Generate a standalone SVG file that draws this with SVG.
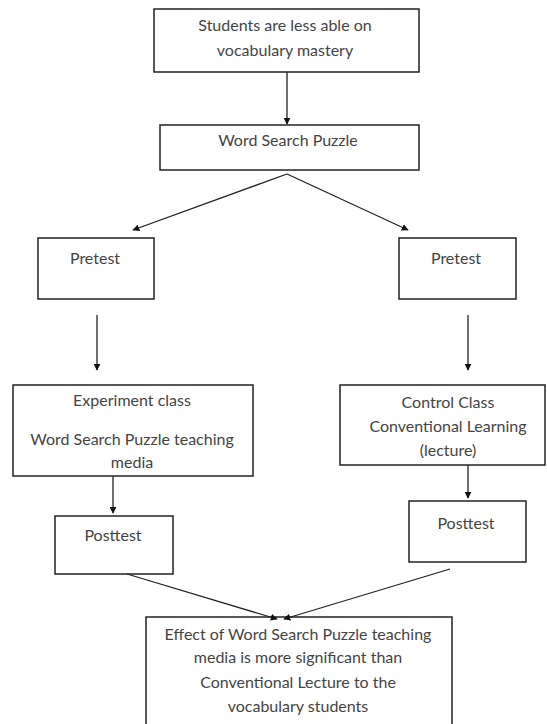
<svg xmlns="http://www.w3.org/2000/svg" width="547" height="724" viewBox="0 0 547 724">
<style>
.box{fill:#fff;stroke:#222;stroke-width:1.5}
.t{font-family:Lato,"Open Sans","Liberation Sans",sans-serif;font-size:16px;fill:#444;text-anchor:middle}
.c{stroke:#222;stroke-width:1.3;fill:none;marker-end:url(#ah)}
</style>
<defs>
<marker id="ah" viewBox="0 0 10 10" refX="9" refY="5" markerWidth="7" markerHeight="7" orient="auto" markerUnits="userSpaceOnUse">
<path d="M0,0 L10,5 L0,10 z" fill="#111"/>
</marker>
</defs>
<rect width="547" height="724" fill="#fff"/>
<g id="problem"><rect class="box" x="154" y="9" width="265" height="63"/>
<text class="t" x="285" y="30.5">Students are less able on</text>
<text class="t" x="285" y="55.5">vocabulary mastery</text></g>
<g id="wsp"><rect class="box" x="160" y="125" width="259" height="45"/>
<text class="t" x="288" y="145.5">Word Search Puzzle</text></g>
<g id="pretest-left"><rect class="box" x="38" y="238" width="116" height="61"/>
<text class="t" x="95" y="263.5">Pretest</text></g>
<g id="pretest-right"><rect class="box" x="399" y="238" width="117" height="61"/>
<text class="t" x="456" y="263.5">Pretest</text></g>
<g id="experiment"><rect class="box" x="13" y="385" width="240" height="91"/>
<text class="t" x="132" y="405.5">Experiment class</text>
<text class="t" x="132" y="444.5">Word Search Puzzle teaching</text>
<text class="t" x="132" y="467.5">media</text></g>
<g id="control"><rect class="box" x="340" y="385" width="205" height="80"/>
<text class="t" x="448" y="407.5">Control Class</text>
<text class="t" x="448" y="431.5">Conventional Learning</text>
<text class="t" x="448" y="455.5">(lecture)</text></g>
<g id="posttest-left"><rect class="box" x="55" y="516" width="118" height="58"/>
<text class="t" x="113" y="540.5">Posttest</text></g>
<g id="posttest-right"><rect class="box" x="409" y="501" width="117" height="61"/>
<text class="t" x="466" y="528.5">Posttest</text></g>
<g id="effect"><rect class="box" x="146" y="617" width="306" height="112"/>
<text class="t" x="298" y="639.5">Effect of Word Search Puzzle teaching</text>
<text class="t" x="298" y="662.5">media is more significant than</text>
<text class="t" x="298" y="687.5">Conventional Lecture to the</text>
<text class="t" x="298" y="711.5">vocabulary students</text></g>
<g id="connectors">
<line class="c" x1="287" y1="72" x2="287" y2="124"/>
<line class="c" x1="287" y1="174" x2="133" y2="230"/>
<line class="c" x1="287" y1="174" x2="408" y2="230"/>
<line class="c" x1="97" y1="315" x2="97" y2="370"/>
<line class="c" x1="468" y1="315" x2="468" y2="370"/>
<line class="c" x1="113" y1="476" x2="113" y2="513"/>
<line class="c" x1="468" y1="465" x2="468" y2="498"/>
<line class="c" x1="127" y1="574" x2="277" y2="619"/>
<line class="c" x1="450" y1="569" x2="284" y2="619"/>
</g>
</svg>
